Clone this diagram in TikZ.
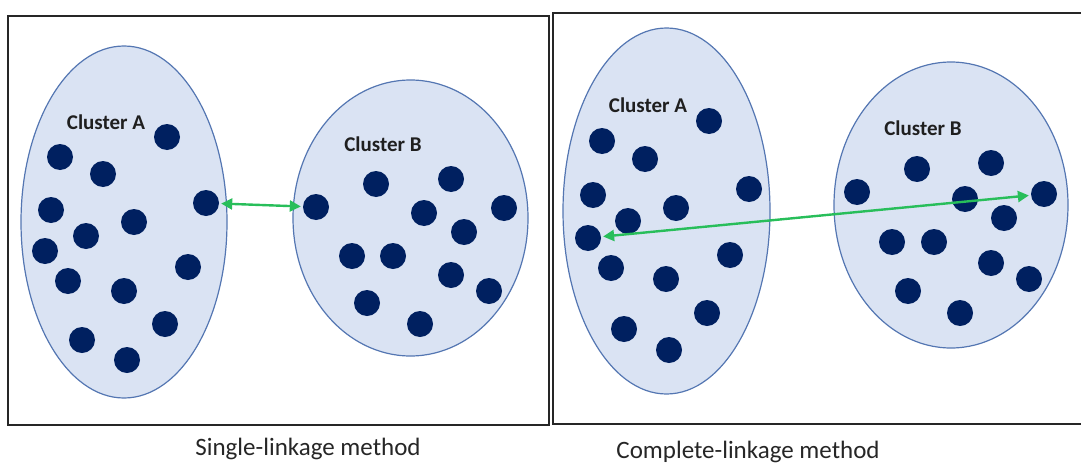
\documentclass[tikz,border=0pt]{standalone}
\usepackage{fontspec}
\setmainfont{Carlito}
\usetikzlibrary{arrows.meta,shapes.geometric}
\definecolor{dotnavy}{RGB}{0,32,96}
\definecolor{cfill}{RGB}{218,227,243}
\definecolor{cline}{RGB}{84,118,178}
\definecolor{linkgreen}{RGB}{40,190,90}
\tikzset{
  pt/.style={circle, fill=dotnavy, minimum size=26pt, inner sep=0pt},
  clus/.style={ellipse, draw=cline, fill=cfill, line width=1.2pt, inner sep=0pt},
  panel/.style={draw=black!85, line width=1.6pt},
  clabel/.style={font=\fontsize{21}{23}\selectfont\bfseries, text=black!88},
  caption/.style={font=\fontsize{25}{27}\selectfont, text=black!85},
  linkarrow/.style={draw=linkgreen, line width=2.4pt, shorten <=2pt, shorten >=2pt,
    {Triangle[length=11pt,width=11pt]}-{Triangle[length=11pt,width=11pt]}}
}
\begin{document}
\begin{tikzpicture}[x=1pt,y=-1pt]
\useasboundingbox (0,0) rectangle (1081,463);

% two panels
\draw[panel] (8,16) rectangle (549,425);
\draw[panel] (553,13) rectangle (1095,424);

% ---- single linkage ----
\node[clus, minimum width=206pt, minimum height=352pt] (sA) at (124,222) {};
\node[clus, minimum width=235pt, minimum height=276pt] (sB) at (410.5,218) {};
\node[clabel] (sAl) at (106,122) {Cluster A};
\node[clabel] (sBl) at (383,144) {Cluster B};
\foreach \x/\y [count=\i] in {167/137,60/157,103/174,51/210,206/203,134/222,86/236,
    45/251,68/281,124/291,188/267,165/324,82/340,127/360}
  \node[pt] (sa\i) at (\x,\y) {};
\foreach \x/\y [count=\i] in {376/184,451/179,316/207,424/213,504/208,464/232,
    352/256,393/256,451/275,489/291,367/303,420/324}
  \node[pt] (sb\i) at (\x,\y) {};
\draw[linkarrow] (sa5) -- (sb3);
\node[caption] (scap) at (308,449) {Single-linkage method};

% ---- complete linkage ----
\node[clus, minimum width=207pt, minimum height=366pt] (cA) at (666.5,211) {};
\node[clus, minimum width=234pt, minimum height=286pt] (cB) at (951,205) {};
\node[clabel] (cAl) at (648,105) {Cluster A};
\node[clabel] (cBl) at (923,128) {Cluster B};
\foreach \x/\y [count=\i] in {709/121,602/141,645/159,749/189,593/195,676/208,628/221,
    588/238,611/268,666/279,730/255,707/313,624/329,669/350}
  \node[pt] (ca\i) at (\x,\y) {};
\foreach \x/\y [count=\i] in {917/169,991/163,857/192,965/199,1044/194,1004/218,
    892/242,934/242,991/263,1029/279,908/291,960/313}
  \node[pt] (cb\i) at (\x,\y) {};
\draw[linkarrow] (ca8) -- (cb5);
\node[caption] (ccap) at (748,452) {Complete-linkage method};
\end{tikzpicture}
\end{document}
